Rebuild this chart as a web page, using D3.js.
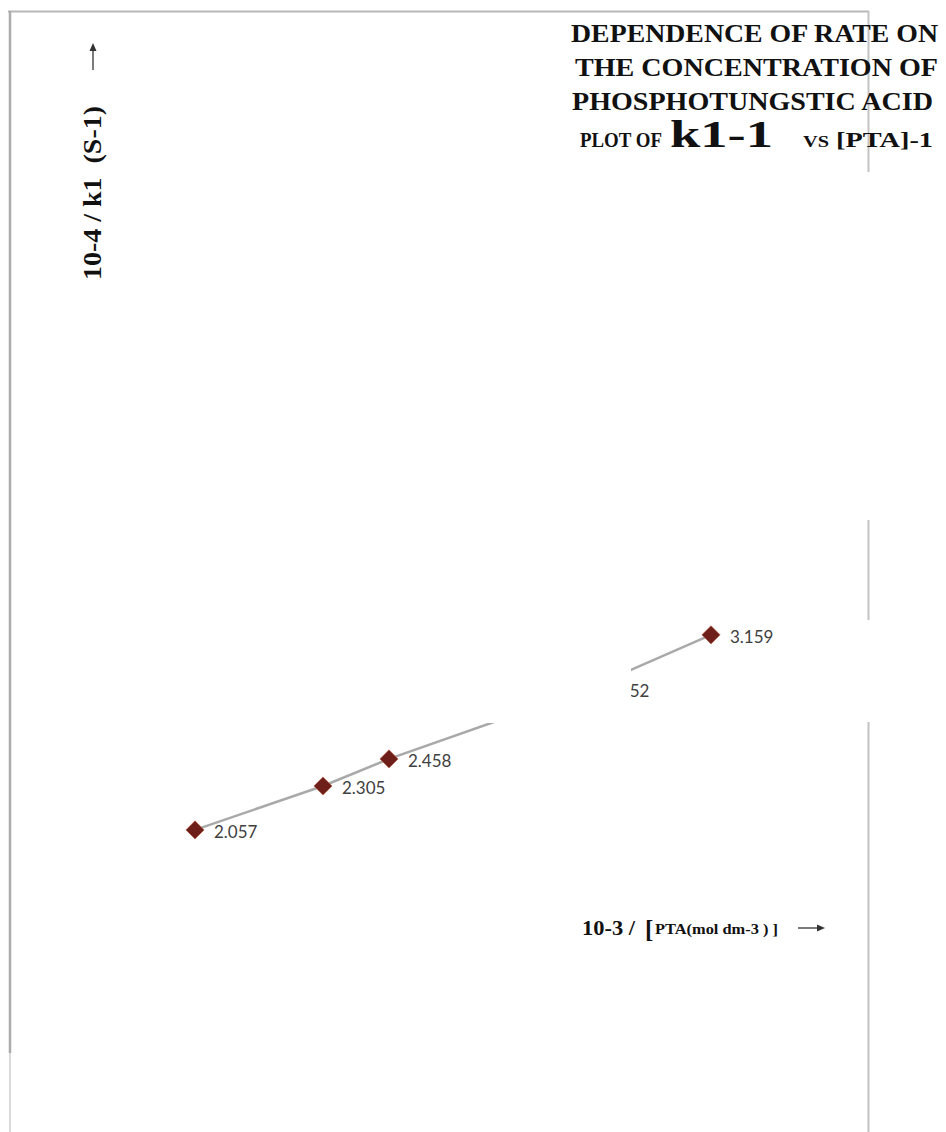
<!DOCTYPE html>
<html>
<head>
<meta charset="utf-8">
<script src="https://cdn.jsdelivr.net/npm/d3@7"></script>
<style>
  html, body { margin: 0; padding: 0; background: #fff; }
  svg text.serif { font-family: "Liberation Serif", "Times New Roman", Times, serif; }
</style>
</head>
<body>
<div id="canvas"></div>
<script>
// Data
const xValues = [1.0, 2.28, 2.94, 4.92, 6.16]; // 10-3 / [PTA]
const kValues = [2.057, 2.305, 2.458, 2.852, 3.159]; // 10-4 / k1
const pointLabels = ["2.057", "2.305", "2.458", "2.852", "3.159"];

const titleLines = [
  "DEPENDENCE OF RATE ON",
  "THE CONCENTRATION OF",
  "PHOSPHOTUNGSTIC ACID",
];

const width = 946;
const height = 1132;
const markerColor = "#6e1f1a";
const lineColor = "#a9a9a9";

const svg = d3
  .select("#canvas")
  .append("svg")
  .attr("width", width)
  .attr("height", height);

// Scales (axes are not drawn in the original)
const xScale = d3.scaleLinear().domain([0, 8]).range([95, 895]);
const yScale = d3.scaleLinear().domain([0, 5]).range([1194, 309]);

// Frame of the chart area
const frame = svg.append("g").attr("fill", "none");
frame.append("line")
  .attr("x1", 8).attr("y1", 11.5).attr("x2", 869).attr("y2", 11.5)
  .attr("stroke", "#b8b8b8").attr("stroke-width", 2);
frame.append("line")
  .attr("x1", 10).attr("y1", 11).attr("x2", 10).attr("y2", 1053)
  .attr("stroke", "#ababab").attr("stroke-width", 2.5);
frame.append("line")
  .attr("x1", 10).attr("y1", 1053).attr("x2", 10).attr("y2", height)
  .attr("stroke", "#dadada").attr("stroke-width", 2);
// right edge shows only in pieces
[[11, 172], [520, 620], [722, height]].forEach(([a, b]) => {
  frame.append("line")
    .attr("x1", 868.5).attr("y1", a).attr("x2", 868.5).attr("y2", b)
    .attr("stroke", "#c2c2c2").attr("stroke-width", 2);
});

const points = xValues.map((x, i) => ({ x: x, k: kValues[i], label: pointLabels[i] }));

// Line through the points
const line = d3.line().x(d => xScale(d.x)).y(d => yScale(d.k));
svg.append("path")
  .datum(points)
  .attr("d", line)
  .attr("fill", "none")
  .attr("stroke", lineColor)
  .attr("stroke-width", 2.5);

// Diamond markers
svg.append("g")
  .selectAll("path")
  .data(points)
  .join("path")
  .attr("d", d3.symbol(d3.symbolSquare, 165))
  .attr("transform", d => `translate(${xScale(d.x)},${yScale(d.k)}) rotate(45)`)
  .attr("fill", markerColor)
  .attr("stroke", "#b4634c")
  .attr("stroke-width", 0.7);

// Value labels
svg.append("g")
  .attr("font-family", "Lato, 'Open Sans', sans-serif")
  .attr("font-size", 17)
  .attr("fill", "#404040")
  .selectAll("text")
  .data(points)
  .join("text")
  .attr("x", d => xScale(d.x) + 19)
  .attr("y", d => yScale(d.k) + 2)
  .attr("dy", "0.35em")
  .text(d => d.label);

// White box covering the middle of the plot (as in the original)
svg.append("rect")
  .attr("x", 487).attr("y", 620)
  .attr("width", 144).attr("height", 103)
  .attr("fill", "#fff");

// Title block
const title = svg.append("g")
  .attr("font-weight", "bold")
  .attr("fill", "#111");

const titleX = [[571, 938], [575, 938], [572, 933]];
const titleY = [42, 76, 110];
title.selectAll("text.tl")
  .data(titleLines)
  .join("text")
  .attr("class", "tl serif")
  .attr("x", (d, i) => titleX[i][0])
  .attr("y", (d, i) => titleY[i])
  .attr("font-size", 26)
  .attr("textLength", (d, i) => titleX[i][1] - titleX[i][0])
  .attr("lengthAdjust", "spacingAndGlyphs")
  .text(d => d);

const plotLine = [
  { t: "PLOT OF", x0: 580, x1: 662, size: 22 },
  { t: "k1-1", x0: 670, x1: 773, size: 38 },
  { t: "VS", x0: 803, x1: 829, size: 16 },
  { t: "[PTA]-1", x0: 836, x1: 933, size: 21 },
];
title.selectAll("text.pl")
  .data(plotLine)
  .join("text")
  .attr("class", "pl serif")
  .attr("x", d => d.x0)
  .attr("y", 147)
  .attr("font-size", d => d.size)
  .attr("textLength", d => d.x1 - d.x0)
  .attr("lengthAdjust", "spacingAndGlyphs")
  .text(d => d.t);

// Y axis label
const yLab = svg.append("g")
  .attr("font-weight", "bold")
  .attr("fill", "#111");
yLab.append("text")
  .attr("class", "serif")
  .attr("transform", "translate(101,280) rotate(-90)")
  .attr("font-size", 25)
  .attr("textLength", 174)
  .attr("lengthAdjust", "spacingAndGlyphs")
  .text("10-4 / k1\u00a0\u00a0(S-1)");

// X axis label
const xLab = svg.append("g")
  .attr("font-weight", "bold")
  .attr("fill", "#111");
xLab.append("text")
  .attr("class", "serif")
  .attr("x", 582).attr("y", 935)
  .attr("font-size", 22)
  .attr("textLength", 53)
  .attr("lengthAdjust", "spacingAndGlyphs")
  .text("10-3 /");
xLab.append("text")
  .attr("class", "serif")
  .attr("x", 645).attr("y", 938)
  .attr("font-size", 25)
  .text("[");
xLab.append("text")
  .attr("class", "serif")
  .attr("x", 655).attr("y", 934)
  .attr("font-size", 14)
  .attr("textLength", 123)
  .attr("lengthAdjust", "spacingAndGlyphs")
  .text("PTA(mol dm-3 ) ]");

// Arrows beside the axis titles
const arrows = svg.append("g").attr("stroke", "#333").attr("fill", "#333");
arrows.append("line")
  .attr("x1", 93).attr("y1", 70).attr("x2", 93).attr("y2", 47)
  .attr("stroke-width", 1.3);
arrows.append("path")
  .attr("d", "M93,43 L89.5,51 L96.5,51 Z")
  .attr("stroke", "none");
arrows.append("line")
  .attr("x1", 798).attr("y1", 928).attr("x2", 820).attr("y2", 928)
  .attr("stroke-width", 1.3);
arrows.append("path")
  .attr("d", "M825,928 L817,924.5 L817,931.5 Z")
  .attr("stroke", "none");
</script>
</body>
</html>
